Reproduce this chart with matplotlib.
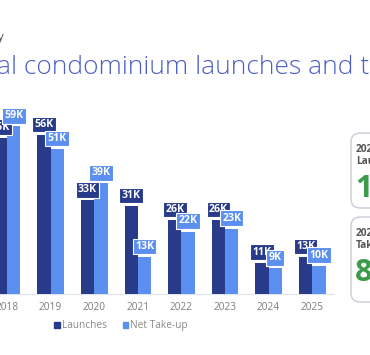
import matplotlib.pyplot as plt
from matplotlib.patches import FancyBboxPatch, Patch

plt.rcParams['font.family'] = ['Open Sans', 'DejaVu Sans']

years = ['2018', '2019', '2020', '2021', '2022', '2023', '2024', '2025']
launches = [55, 56, 33, 31, 26, 26, 11, 13]
take_up = [59, 51, 39, 13, 22, 23, 9, 10]

DARK = '#283a8a'
LIGHT = '#5b8ff0'
GREEN = '#3c9c4a'
W, H = 370, 355


def fx(px):
    return px / W


def fy(py):
    return 1 - py / H


fig = plt.figure(figsize=(3.7, 3.55), dpi=100)
fig.patch.set_facecolor('white')

# chart area: bottom of axes = baseline, 43.6 px per year, 2.84 px per K
step = 43.6
ax = fig.add_axes([0, fy(294), 1, 294 / H])
ax.set_xlim(-7 / step, (W - 7) / step)
ax.set_ylim(0, 294 / 2.84)
for s in ax.spines.values():
    s.set_visible(False)
ax.set_yticks([])

bw = 13.3 / step
xs = list(range(len(years)))
ax.bar([x - bw / 2 for x in xs], launches, bw, color=DARK, zorder=2)
ax.bar([x + bw / 2 for x in xs], take_up, bw, color=LIGHT, zorder=2)
ax.plot([ax.get_xlim()[0], 7.5], [0, 0], color='#e4e6ec', lw=1, zorder=1,
        clip_on=False)

ax.set_xticks(xs, years)
ax.tick_params(axis='x', length=0, pad=6, labelsize=7.3, labelcolor='#7d7d7d')

for vals, off, col in [(launches, -bw / 2, DARK), (take_up, bw / 2, LIGHT)]:
    for x, v in zip(xs, vals):
        ax.annotate(f'{v}K', (x + off, v), xytext=(0, 7.6),
                    textcoords='offset points', ha='center', va='center',
                    color='white', fontsize=7.6, fontweight='bold', zorder=3,
                    bbox=dict(boxstyle='square,pad=0.22', fc=col, ec='white',
                              lw=0.8))

handles = [Patch(color=DARK, label='Launches'),
           Patch(color=LIGHT, label='Net Take-up')]
fig.legend(handles=handles, loc='center', bbox_to_anchor=(fx(121), fy(325.7)),
           ncol=2, frameon=False, fontsize=7.3, labelcolor='#8a8a8a',
           handlelength=0.55, handleheight=0.55, handletextpad=0.2,
           columnspacing=1.6)

# title (cropped)
fig.text(fx(-3), fy(73.5), 'al condominium launches and t', fontsize=19,
         color='#4d5fc4', ha='left', va='baseline', fontweight='light')
fig.text(fx(-2), fy(40), 'y', fontsize=8, color='#444444', ha='left',
         va='baseline')

# side cards (cropped)
for top, bot, lab, big in [(133, 208, 'Launches', '1'),
                           (217, 302, 'Take-up', '8')]:
    card = FancyBboxPatch((fx(351), fy(bot)), fx(60), (bot - top) / H,
                          boxstyle='round,pad=0,rounding_size=0.025',
                          transform=fig.transFigure, fc='white',
                          ec='#c9ccd8', lw=1)
    fig.patches.append(card)
    fig.text(fx(356), fy(top + 19), '2025', fontsize=7.3, fontweight='bold',
             color='#555555', va='baseline')
    fig.text(fx(356), fy(top + 31), lab, fontsize=7.3, fontweight='bold',
             color='#555555', va='baseline')
    fig.text(fx(355), fy(top + 64), big, fontsize=22, fontweight='bold',
             color=GREEN, va='baseline')

fig.savefig('out.png', dpi=100)
